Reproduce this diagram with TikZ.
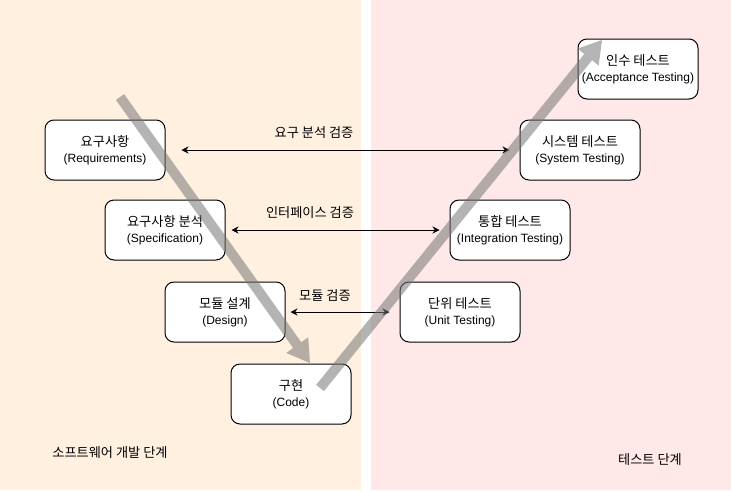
\documentclass[tikz,border=0pt]{standalone}
\usepackage{fontspec}
\setmainfont{Liberation Sans}
\newfontfamily\kr[Scale=1.1]{Noto Sans CJK KR}
\usetikzlibrary{arrows.meta,calc}
\definecolor{devbg}{HTML}{FFF0E0}
\definecolor{testbg}{HTML}{FFE8E8}
\definecolor{vgray}{HTML}{777777}
\begin{document}
\begin{tikzpicture}[x=1pt,y=-1pt,
  box/.style={draw=black, line width=1pt, fill=white, rounded corners=9pt,
    minimum width=120pt, minimum height=60pt, align=center, inner sep=0pt,
    font=\fontsize{12}{16}\selectfont},
  lbl/.style={font=\kr\fontsize{12}{14}\selectfont, inner sep=0pt},
  verif/.style={{Stealth[length=7pt,width=7pt]}-{Stealth[length=7pt,width=7pt]}, line width=0.8pt},
  vflow/.style={fill=vgray, opacity=0.55}
]
\useasboundingbox (0,0) rectangle (731,491);
\fill[white] (0,0) rectangle (731,491);
\fill[devbg] (0,0) rectangle (361,490);
\fill[testbg] (371,0) rectangle (731,490);

\node[box] (req)    at (105,150) {{\kr 요구사항}\\(Requirements)};
\node[box] (spec)   at (165,230) {{\kr 요구사항 분석}\\(Specification)};
\node[box] (design) at (225,312) {{\kr 모듈 설계}\\(Design)};
\node[box] (code)   at (291,394) {{\kr 구현}\\(Code)};
\node[box] (acc)    at (638,69)  {{\kr 인수 테스트}\\(Acceptance Testing)};
\node[box] (sys)    at (580,150) {{\kr 시스템 테스트}\\(System Testing)};
\node[box] (integ)  at (510,230) {{\kr 통합 테스트}\\(Integration Testing)};
\node[box] (unit)   at (460,312) {{\kr 단위 테스트}\\(Unit Testing)};

\draw[verif, shorten <=16pt, shorten >=10pt] (req.east) -- (sys.west);
\draw[verif, shorten <=6pt, shorten >=10pt] (spec.east) -- (integ.west);
\draw[verif, shorten <=5pt, shorten >=10pt] (design.east) -- (unit.west);

\node[lbl] (l1) at (314,133) {요구 분석 검증};
\node[lbl] (l2) at (310,213) {인터페이스 검증};
\node[lbl] (l3) at (325,296) {모듈 검증};

% big flow arrows (development down, testing up)
\coordinate (dstart) at (120,97);
\coordinate (dtip) at (310,363);
\coordinate (dbase) at ($(dtip)!22pt!(dstart)$);
\fill[vflow] ($(dstart)!5pt!90:(dtip)$) -- ($(dbase)!5pt!90:(dtip)$)
  -- ($(dbase)!13.5pt!90:(dtip)$) -- (dtip) -- ($(dbase)!13.5pt!-90:(dtip)$)
  -- ($(dbase)!5pt!-90:(dtip)$) -- ($(dstart)!5pt!-90:(dtip)$) -- cycle;

\coordinate (ustart) at (320,388);
\coordinate (utip) at (602,40);
\coordinate (ubase) at ($(utip)!22pt!(ustart)$);
\fill[vflow] ($(ustart)!5pt!90:(utip)$) -- ($(ubase)!5pt!90:(utip)$)
  -- ($(ubase)!13.5pt!90:(utip)$) -- (utip) -- ($(ubase)!13.5pt!-90:(utip)$)
  -- ($(ubase)!5pt!-90:(utip)$) -- ($(ustart)!5pt!-90:(utip)$) -- cycle;

\node[lbl] (devphase) at (110,453) {소프트웨어 개발 단계};
\node[lbl] (testphase) at (650,460) {테스트 단계};
\end{tikzpicture}
\end{document}
